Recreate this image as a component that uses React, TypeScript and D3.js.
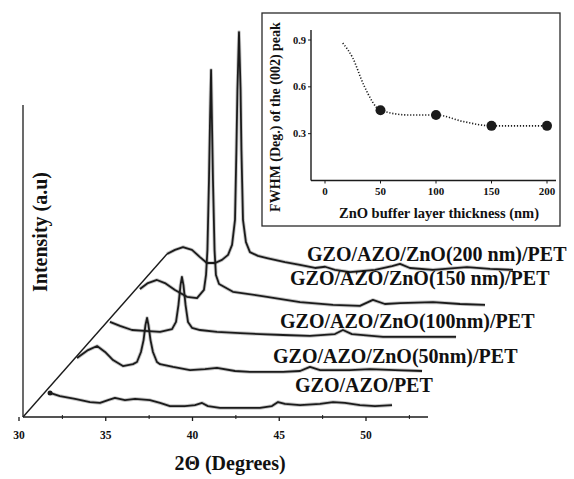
import React, { useRef, useEffect } from "react";
import * as d3 from "d3";

// XRD scans, 2theta (deg) vs intensity (a.u.), each listed in its own frame
const angle0 = [31.79, 32.36, 33.23, 34.09, 34.67, 35.13, 35.53, 36.11, 36.69, 37.55, 38.13, 38.7, 39.57, 40.14, 40.55, 40.89, 41.58, 42.74, 43.89, 44.58, 44.93, 45.33, 46.2, 47.35, 48.1, 48.79, 49.65, 50.52, 51.5];
const counts0 = [7.7, 6.7, 5.8, 4.8, 4.5, 5.4, 6.1, 5.4, 5.8, 5.4, 4.5, 3.5, 3.5, 3.8, 4.5, 3.5, 2.9, 2.9, 2.9, 3.5, 4.8, 4.2, 3.8, 4.2, 4.8, 4.5, 3.8, 3.5, 3.8];

const angle1 = [31.64, 32.28, 32.8, 33.26, 33.72, 34.29, 34.87, 35.1, 35.33, 35.48, 35.59, 35.68, 35.76, 35.88, 36.02, 36.25, 36.43, 37.18, 38.16, 39.02, 39.71, 40.75, 41.61, 43.52, 44.5, 45.07, 45.65, 47.38, 48.53, 49.97, 51.53];
const counts1 = [7.8, 10.3, 11.6, 9.7, 7.1, 5.2, 5.8, 6.5, 9.7, 13.5, 18.4, 20.6, 18.4, 13.5, 9.7, 6.5, 5.8, 4.9, 3.9, 4.2, 4.6, 3.6, 3.3, 3.3, 3.6, 4.9, 3.9, 3.9, 4.2, 3.9, 3.6];

const angle2 = [31.84, 32.42, 33.11, 33.86, 34.73, 35.42, 35.65, 35.79, 35.91, 35.99, 36.08, 36.2, 36.34, 36.57, 37.03, 38.01, 39.34, 40.49, 41.82, 43.37, 44.81, 45.27, 45.79, 47.58, 49.71, 51.79];
const counts2 = [8.2, 6.9, 5.6, 5.3, 5.0, 5.9, 8.2, 13.6, 20.0, 22.6, 20.0, 13.6, 8.2, 6.3, 5.6, 5.0, 4.6, 4.3, 4.0, 3.7, 4.3, 5.6, 4.3, 3.4, 3.4, 3.4];

const angle3 = [31.87, 32.33, 32.85, 33.31, 33.89, 34.58, 35.16, 35.56, 35.68, 35.76, 35.85, 35.91, 35.97, 36.02, 36.08, 36.17, 36.25, 36.43, 37.23, 39.19, 41.1, 43.0, 44.55, 45.3, 45.99, 46.86, 48.76, 50.32, 51.76];
const counts3 = [7.6, 9.5, 10.5, 9.5, 7.3, 5.1, 4.7, 7.3, 12.1, 20.1, 42.5, 61.8, 77.8, 61.8, 42.5, 20.1, 12.1, 9.2, 6.7, 5.1, 3.4, 2.5, 2.2, 4.1, 2.8, 3.1, 3.4, 2.8, 2.5];

const angle4 = [31.73, 32.19, 32.65, 33.17, 33.63, 34.03, 34.5, 34.9, 35.25, 35.48, 35.65, 35.73, 35.79, 35.88, 35.97, 36.02, 36.11, 36.28, 36.51, 36.97, 37.49, 38.53, 39.39, 40.26, 40.84, 41.41, 42.28, 43.72, 44.7, 45.16, 45.73, 47.06, 49.02, 50.35, 51.67];
const counts4 = [7.7, 9.0, 9.9, 9.0, 6.7, 4.8, 4.8, 5.8, 7.4, 10.6, 18.6, 41.0, 60.3, 78.8, 60.3, 41.0, 18.6, 11.5, 8.3, 7.1, 6.4, 5.1, 4.2, 3.2, 3.6, 2.6, 1.9, 2.6, 3.8, 4.5, 3.2, 2.6, 3.5, 2.9, 2.6];

const sampleNames = [
  "GZO/AZO/PET",
  "GZO/AZO/ZnO(50nm)/PET",
  "GZO/AZO/ZnO(100nm)/PET",
  "GZO/AZO/ZnO(150 nm)/PET",
  "GZO/AZO/ZnO(200 nm)/PET",
];
const angleStep = 1.7; // waterfall shift per scan
const countStep = 11.14;

const xTicks = [30, 35, 40, 45, 50];
const xMinorTicks = [32.5, 37.5, 42.5, 47.5, 52.5];

// inset: FWHM of the (002) peak
const thickness = [50, 100, 150, 200];
const fwhm = [0.45, 0.42, 0.35, 0.35];
const fitThickness = [16, 25, 35, 50, 75, 100, 125, 150, 175, 200];
const fitFwhm = [0.88, 0.785, 0.61, 0.45, 0.42, 0.42, 0.377, 0.35, 0.35, 0.35];
const insetXTicks = [0, 50, 100, 150, 200];
const insetYTicks = [0.3, 0.6, 0.9];

const FONT = "'Liberation Serif', 'Times New Roman', serif";
const INK = "#1b1b1b";

const App = () => {
  const ref = useRef<SVGSVGElement>(null);
  const width = 574;
  const height = 479;

  useEffect(() => {
    const svg = d3.select(ref.current);
    svg.selectAll("*").remove();
    svg.attr("width", width).attr("height", height);
    svg.append("rect").attr("width", width).attr("height", height).attr("fill", "#fff");

    const x = d3.scaleLinear().domain([30, 50]).range([19, 366]);
    const y = d3.scaleLinear().domain([0, 100]).range([417, 105]);
    const axisLeft = 23;
    const axisRight = 428;

    const scans = [
      [angle0, counts0],
      [angle1, counts1],
      [angle2, counts2],
      [angle3, counts3],
      [angle4, counts4],
    ];

    const g = svg.append("g").attr("font-family", FONT).attr("font-weight", "bold").attr("fill", "#111");

    // axes
    g.append("line")
      .attr("x1", axisLeft).attr("x2", axisLeft)
      .attr("y1", y(100)).attr("y2", y(0))
      .attr("stroke", INK).attr("stroke-width", 1.3);
    g.append("line")
      .attr("x1", axisLeft).attr("x2", axisRight)
      .attr("y1", y(0)).attr("y2", y(0))
      .attr("stroke", INK).attr("stroke-width", 1.4);

    g.selectAll(".tick")
      .data(xTicks)
      .enter()
      .append("line")
      .attr("x1", (d) => x(d)).attr("x2", (d) => x(d))
      .attr("y1", y(0)).attr("y2", y(0) + 4)
      .attr("stroke", INK).attr("stroke-width", 1.3);
    g.selectAll(".minor")
      .data(xMinorTicks)
      .enter()
      .append("line")
      .attr("x1", (d) => x(d)).attr("x2", (d) => x(d))
      .attr("y1", y(0) - 2).attr("y2", y(0) + 2)
      .attr("stroke", INK).attr("stroke-width", 1);
    g.selectAll(".tlabel")
      .data(xTicks)
      .enter()
      .append("text")
      .attr("x", (d) => x(d))
      .attr("y", 439)
      .attr("text-anchor", "middle")
      .attr("font-size", 11.5)
      .text((d) => d);

    g.append("text")
      .attr("x", 230).attr("y", 470)
      .attr("text-anchor", "middle")
      .attr("font-size", 20)
      .text("2Θ (Degrees)");
    g.append("text")
      .attr("transform", "translate(47,232) rotate(-90)")
      .attr("text-anchor", "middle")
      .attr("font-size", 20)
      .text("Intensity (a.u)");

    // waterfall scans
    const line = d3.line<[number, number]>().curve(d3.curveLinear);
    const starts: [number, number][] = [];
    scans.forEach(([angles, counts], i) => {
      const pts: [number, number][] = angles.map((a, k) => [
        x(a + i * angleStep),
        y(counts[k] + i * countStep),
      ]);
      starts.push(pts[0]);
      // soft halo imitates the noisy scan trace
      g.append("path")
        .attr("d", line(pts))
        .attr("fill", "none")
        .attr("stroke", INK)
        .attr("stroke-opacity", 0.25)
        .attr("stroke-width", 3.6)
        .attr("stroke-linejoin", "round");
      g.append("path")
        .attr("d", line(pts))
        .attr("fill", "none")
        .attr("stroke", INK)
        .attr("stroke-width", 1.8)
        .attr("stroke-linejoin", "round");
    });

    // diagonal offset guide
    const top = starts[starts.length - 1];
    g.append("line")
      .attr("x1", axisLeft).attr("y1", y(0))
      .attr("x2", top[0]).attr("y2", top[1])
      .attr("stroke", INK).attr("stroke-width", 1.4);
    g.append("circle")
      .attr("cx", starts[0][0]).attr("cy", starts[0][1])
      .attr("r", 2.5).attr("fill", INK);

    const labelPos = [
      [295, 392],
      [273, 363],
      [280, 328],
      [290, 285],
      [307, 261],
    ];
    sampleNames.forEach((name, i) => {
      g.append("text")
        .attr("x", labelPos[i][0]).attr("y", labelPos[i][1])
        .attr("font-size", 20)
        .text(name);
    });

    // inset
    const inset = svg.append("g").attr("font-family", FONT).attr("font-weight", "bold").attr("fill", "#111");
    inset.append("rect")
      .attr("x", 262).attr("y", 13).attr("width", 298).attr("height", 213)
      .attr("fill", "#fff").attr("stroke", "#2a2a2a").attr("stroke-width", 1.3);

    const ix = d3.scaleLinear().domain([0, 200]).range([325, 547]);
    const iy = d3.scaleLinear().domain([0, 0.9]).range([180.5, 40]);
    const iLeft = 311;

    inset.append("line")
      .attr("x1", iLeft).attr("x2", iLeft).attr("y1", 30).attr("y2", iy(0))
      .attr("stroke", INK).attr("stroke-width", 1.4);
    inset.append("line")
      .attr("x1", iLeft).attr("x2", 556).attr("y1", iy(0)).attr("y2", iy(0))
      .attr("stroke", INK).attr("stroke-width", 1.4);

    inset.selectAll(".iyt")
      .data(insetYTicks)
      .enter()
      .append("line")
      .attr("x1", iLeft - 3).attr("x2", iLeft)
      .attr("y1", (d) => iy(d)).attr("y2", (d) => iy(d))
      .attr("stroke", INK);
    inset.selectAll(".iyl")
      .data(insetYTicks)
      .enter()
      .append("text")
      .attr("x", iLeft - 5).attr("y", (d) => iy(d) + 3.5)
      .attr("text-anchor", "end")
      .attr("font-size", 10.5)
      .text((d) => d.toFixed(1));
    inset.selectAll(".ixt")
      .data(insetXTicks)
      .enter()
      .append("line")
      .attr("x1", (d) => ix(d)).attr("x2", (d) => ix(d))
      .attr("y1", iy(0)).attr("y2", iy(0) + 3)
      .attr("stroke", INK);
    inset.selectAll(".ixl")
      .data(insetXTicks)
      .enter()
      .append("text")
      .attr("x", (d) => ix(d)).attr("y", 195)
      .attr("text-anchor", "middle")
      .attr("font-size", 11)
      .text((d) => d);

    inset.append("text")
      .attr("x", 439).attr("y", 218)
      .attr("text-anchor", "middle")
      .attr("font-size", 14.5)
      .text("ZnO buffer layer thickness (nm)");
    inset.append("text")
      .attr("transform", "translate(280,117) rotate(-90)")
      .attr("text-anchor", "middle")
      .attr("font-size", 14)
      .text("FWHM (Deg.) of the (002) peak");

    const fit = d3
      .line<number>()
      .x((d) => ix(d))
      .y((d, k) => iy(fitFwhm[k]))
      .curve(d3.curveMonotoneX);
    inset.append("path")
      .attr("d", fit(fitThickness))
      .attr("fill", "none")
      .attr("stroke", INK)
      .attr("stroke-width", 1.6)
      .attr("stroke-dasharray", "1.2,1.8");

    inset.selectAll(".pt")
      .data(thickness)
      .enter()
      .append("circle")
      .attr("cx", (d) => ix(d))
      .attr("cy", (d, k) => iy(fwhm[k]))
      .attr("r", 5)
      .attr("fill", INK);
  }, []);

  return (
    <svg ref={ref} style={{ position: "absolute", left: 0, top: 0 }}></svg>
  );
};

export default App;
